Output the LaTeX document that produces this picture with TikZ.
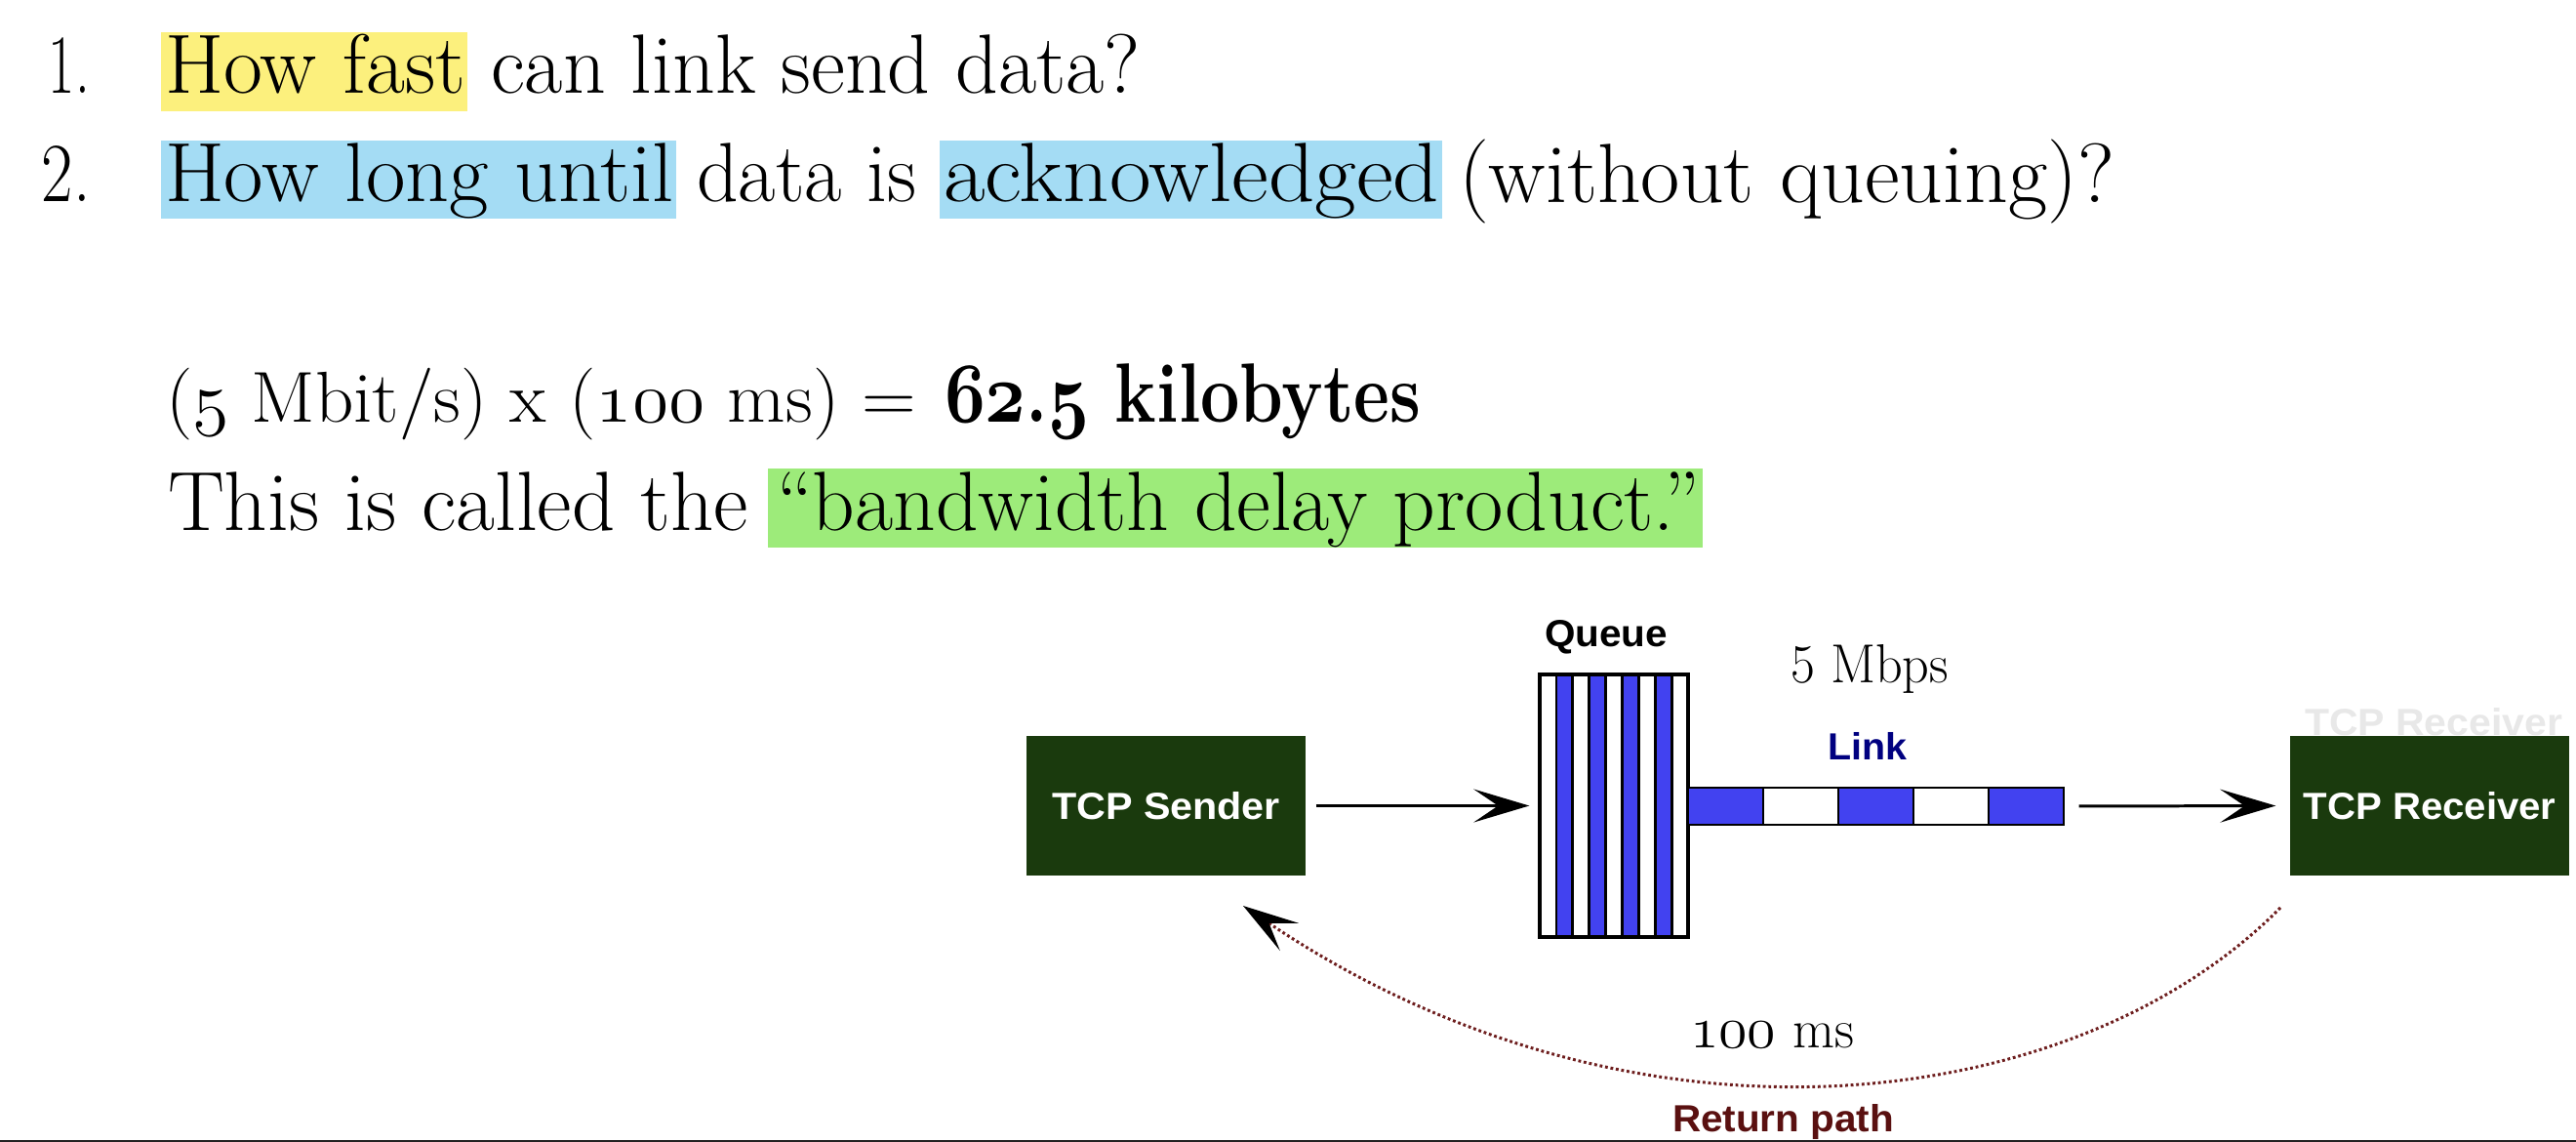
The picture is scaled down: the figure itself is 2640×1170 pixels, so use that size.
\documentclass[tikz,border=0pt]{standalone}
\usepackage{fontspec}
\usepackage{graphicx}
\usetikzlibrary{arrows.meta}

\newfontfamily\labelfont{Liberation Sans}

% one drawing unit (a "pixel" of the layout grid)
\newlength\pxu
\setlength\pxu{0.01cm}
% set a text at a given width, keeping its natural height
\newcommand\fitw[2]{\resizebox{#1\pxu}{\height}{#2}}
% old-style figures
\newcommand\osf[1]{{\usefont{OML}{cmm}{m}{it}#1}}
\newcommand\osfb[1]{{\usefont{OML}{cmm}{b}{it}#1}}

\newcommand\sizebody{\fontsize{24.5}{29}\selectfont}
\newcommand\bodyfont{\sizebody\addfontfeatures{FakeBold=1}}
\newcommand\calcfont{\fontsize{21}{25}\selectfont\addfontfeatures{FakeBold=1}}
\newcommand\smallserif{\fontsize{16}{19}\selectfont\addfontfeatures{FakeBold=0.6}}

\definecolor{hlyellow}{HTML}{FCF07D}
\definecolor{hlblue}{HTML}{A4DCF4}
\definecolor{hlgreen}{HTML}{9DEB7A}
\definecolor{boxgreen}{HTML}{1A3A0D}
\definecolor{qblue}{HTML}{4242F0}
\definecolor{linknavy}{HTML}{000080}
\definecolor{retred}{HTML}{6E1E1E}
\definecolor{retlabel}{HTML}{5A1010}
\definecolor{rule}{HTML}{222222}

\tikzset{
  txt/.style={anchor=base west, inner sep=0pt, outer sep=0pt},
  sanslabel/.style={txt, font=\labelfont\bfseries\fontsize{11}{13}\selectfont},
  tcpbox/.style={fill=boxgreen, minimum width=286\pxu, minimum height=143\pxu,
    inner sep=0pt, text=white, font=\labelfont\bfseries\fontsize{11}{13}\selectfont},
  cell/.style={draw=black, line width=0.8pt},
  flowarrow/.style={line width=0.85pt, -{Stealth[length=5.7mm, width=3.4mm, inset=2.5mm]}},
  returnpath/.style={retred, line width=0.85pt, dash pattern=on 0.8pt off 0.8pt,
    -{Stealth[length=5.7mm, width=3.4mm, inset=2.5mm, black]}}
}

\begin{document}
\begin{tikzpicture}[x=0.01cm, y=-0.01cm]
  \useasboundingbox (0,0) rectangle (2640,1170);
  \fill[white] (0,0) rectangle (2640,1170);

  % ---------- questions ----------
  \fill[hlyellow] (165,33) rectangle (479,114);
  \node[txt] (num1) at (50,96) {\bodyfont\fitw{42}{1.}};
  \node[txt] (q1a) at (169,96) {\bodyfont\fitw{308}{How fast}};
  \node[txt] (q1b) at (503,96) {\bodyfont\fitw{666}{can link send data?}};

  \fill[hlblue] (165,144) rectangle (693,224);
  \fill[hlblue] (963,144) rectangle (1478,224);
  \node[txt] (num2) at (43,207) {\bodyfont\fitw{50}{2.}};
  \node[txt] (q2a) at (169,207) {\bodyfont\fitw{521}{How long until}};
  \node[txt] (q2b) at (714,207) {\bodyfont\fitw{225}{data is}};
  \node[txt] (q2c) at (967,207) {\bodyfont\fitw{508}{acknowledged}};
  \node[txt] (q2d) at (1495,207) {\bodyfont\fitw{672}{(without queuing)?}};

  % ---------- bandwidth delay product ----------
  \node[txt] (calc) at (170,432)
    {\calcfont\fitw{769}{(\osf{5} Mbit/s) x (\osf{100} ms) =}};
  \node[txt] (result) at (968,432)
    {\sizebody\bfseries\fitw{488}{\osfb{62}.\osfb{5} kilobytes}};

  \fill[hlgreen] (787,480) rectangle (1745,561);
  \node[txt] (bdp1) at (172,543) {\bodyfont\fitw{595}{This is called the}};
  \node[txt] (bdp2) at (796,543) {\bodyfont\fitw{946}{“bandwidth delay product.”}};

  % ---------- sender, queue, link, receiver ----------
  \node[tcpbox] (sender) at (1195,825.5) {\fitw{234}{TCP Sender}};
  \node[tcpbox] (receiver) at (2490,825.5) {\fitw{259}{TCP Receiver}};
  \node[txt, font=\labelfont\bfseries\fontsize{11}{13}\selectfont, text=black!9]
    (ghost) at (2362,753) {\fitw{264}{TCP Receiver}};

  % queue: nine vertical slots, every second one filled
  \node[minimum width=152\pxu, minimum height=269\pxu, inner sep=0pt] (queue) at (1654,825.5) {};
  \foreach \i in {0,...,8} {
    \pgfmathsetmacro\qa{1578+\i*152/9}
    \pgfmathsetmacro\qb{1578+(\i+1)*152/9}
    \pgfmathparse{mod(\i,2)==1 ? "qblue" : "white"}
    \edef\qcol{\pgfmathresult}
    \filldraw[cell, fill=\qcol] (\qa,691) rectangle (\qb,960);
  }
  \draw[line width=0.9pt] (1578,691) rectangle (1730,960);
  \node[sanslabel] (queuelabel) at (1583,662) {\fitw{126}{Queue}};

  % link: five packet cells
  \node[minimum width=385\pxu, minimum height=38\pxu, inner sep=0pt] (link) at (1922.5,826) {};
  \foreach \i in {0,...,4} {
    \pgfmathsetmacro\la{1730+\i*77}
    \pgfmathsetmacro\lb{1730+(\i+1)*77}
    \pgfmathparse{mod(\i,2)==0 ? "qblue" : "white"}
    \edef\lcol{\pgfmathresult}
    \filldraw[cell, fill=\lcol] (\la,807) rectangle (\lb,845);
  }
  \node[sanslabel, text=linknavy] (linklabel) at (1873,778) {\fitw{81}{Link}};
  \node[txt] (rate) at (1835,699) {\smallserif\fitw{162}{5 Mbps}};

  % forward flow
  \draw[flowarrow, shorten <=10\pxu, shorten >=10\pxu] (sender.east) -- (queue.west);
  \draw[flowarrow, shorten <=15\pxu, shorten >=14\pxu] (link.east) -- (receiver.west);

  % return path
  \coordinate (retstart) at (2337,930);
  \coordinate (rettip) at (1274,928);
  \draw[returnpath] (retstart) .. controls (2127,1143) and (1676,1199) .. (rettip);
  \node[txt] (delay) at (1732,1073) {\smallserif\fitw{168}{\osf{100} ms}};
  \node[sanslabel, text=retlabel] (retlabeltext) at (1714,1159) {\fitw{227}{Return path}};

  % bottom rule
  \fill[rule] (0,1167.5) rectangle (2640,1170);
\end{tikzpicture}
\end{document}
